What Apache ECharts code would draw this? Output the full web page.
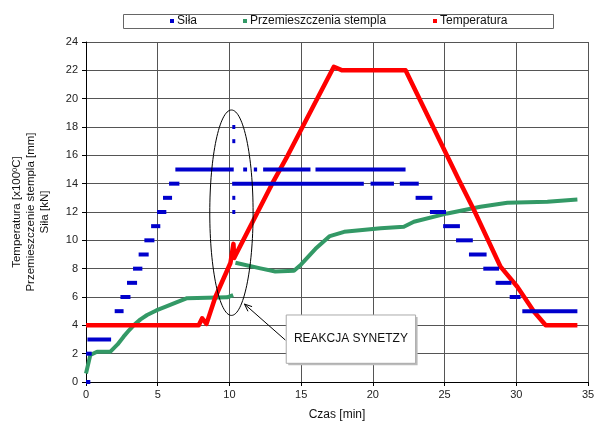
<!DOCTYPE html>
<html><head><meta charset="utf-8">
<script src="https://cdn.jsdelivr.net/npm/echarts/dist/echarts.min.js"></script>
<style>html,body{margin:0;padding:0;background:#fff}#c{width:594px;height:424px}</style>
</head><body><div id="c"></div>
<script>
// ---- Data ----
const seriesNames = ['Siła', 'Przemieszczenia stempla', 'Temperatura'];
const yAxisTitle = 'Temperatura [x100ºC]\nPrzemieszczenie stempla [mm]\nSiła [kN]';
const xAxisTitle = 'Czas [min]';
const annotationText = 'REAKCJA SYNETZY';

// Temperatura [x100ºC] : [time, value]
const tempTime = [0, 7.86, 8.1, 8.4, 9.02, 10.07, 10.28, 10.33, 10.45, 12.98, 14.07, 17.28, 17.86, 22.28, 26.0, 27.05, 28.9, 30.07, 31.24, 32.05, 34.26];
const tempVal  = [4.0, 4.0, 4.5, 4.1, 6.0, 8.4, 9.75, 8.75, 9.0, 14.0, 16.0, 22.25, 22.0, 22.0, 14.26, 12.14, 8.14, 6.72, 4.96, 4.0, 4.0];

// Przemieszczenia stempla [mm] (null = break)
const dispTime = [0, 0.3, 0.77, 1.7, 2.2, 2.62, 3.0, 3.32, 3.8, 4.26, 4.9, 5.65, 6.3, 7.05, 9.84, 10.26, null, 10.42, 12.16, 13.2, 14.5, 15.0, 16.0, 17.0, 18.0, 20.54, 22.16, 22.86, 25.19, 27.5, 29.38, 32.17, 34.26];
const dispVal  = [0.6, 1.9, 2.14, 2.14, 2.65, 3.2, 3.65, 4.0, 4.42, 4.73, 5.05, 5.35, 5.62, 5.92, 5.98, 6.14, null, 8.42, 8.02, 7.8, 7.85, 8.3, 9.4, 10.3, 10.6, 10.85, 10.96, 11.31, 11.9, 12.37, 12.65, 12.73, 12.89];

// Siła [kN] : runs of constant readings [start time, end time, value]
const silaStart = [0, 0, 0.1, 2.0, 2.4, 2.86, 3.28, 3.67, 4.07, 4.54, 4.95, 5.37, 5.79, 6.23, 10.2, 10.2, 10.2, 10.2, 10.96, 11.7, 12.35, 16.0, 10.19, 19.84, 21.88, 22.98, 23.98, 24.9, 25.8, 26.7, 27.7, 28.56, 29.54, 30.42];
const silaEnd   = [0.3, 0.4, 1.75, 2.62, 3.1, 3.56, 3.93, 4.37, 4.77, 5.18, 5.6, 6.0, 6.51, 10.3, 10.4, 10.4, 10.4, 10.4, 11.23, 11.93, 15.65, 22.28, 19.37, 21.47, 23.2, 24.15, 25.1, 26.07, 26.97, 27.93, 28.8, 29.66, 30.3, 34.26];
const silaVal   = [0, 2, 3, 5, 6, 7, 8, 9, 10, 11, 12, 13, 14, 15, 18, 17, 13, 12, 15, 15, 15, 15, 14, 14, 14, 13, 12, 11, 10, 9, 8, 7, 6, 5];

// Annotation anchors (data coordinates)
const ellipseCenter = [10.14, 11.95], ellipseRadius = [1.51, 7.25];
const boxTopLeft = [13.96, 4.73], boxBottomRight = [22.98, 1.32];
const arrowFrom = [13.9, 2.96], arrowTo = [11.05, 5.5];

const FONT = '"Liberation Sans", Arial, sans-serif';
const chart = echarts.init(document.getElementById('c'), null, {renderer: 'canvas'});

const tempData = tempTime.map((t, i) => [t, tempVal[i]]);
const dispData = dispTime.map((t, i) => t === null ? [null, null] : [t, dispVal[i]]);
const silaData = silaStart.map((s, i) => [s, silaEnd[i], silaVal[i]]);

const legendLefts = [170, 243, 433];
const legendColors = ['#0000cc', '#339966', '#ff0000'];

chart.setOption({
  animation: false,
  backgroundColor: '#fff',
  textStyle: {fontFamily: FONT},
  grid: {left: 86, right: 6, top: 42, bottom: 42, containLabel: false, outerBoundsMode: 'none'},
  legend: seriesNames.map((n, i) => ({
    data: [{name: n, icon: 'rect'}],
    left: legendLefts[i], top: 15,
    itemWidth: 4, itemHeight: 4, itemGap: 0,
    textStyle: {fontFamily: FONT, fontSize: 12, color: '#111', padding: [0, 0, 0, -2]},
    padding: 0, selectedMode: false
  })),
  xAxis: {
    type: 'value', min: 0, max: 35, interval: 5,
    name: xAxisTitle, nameLocation: 'middle', nameGap: 27, nameMoveOverlap: false,
    nameTextStyle: {fontFamily: FONT, fontSize: 12, color: '#111'},
    axisLine: {show: true, onZero: false, lineStyle: {color: '#000', width: 1}},
    axisTick: {show: true, length: 4, lineStyle: {color: '#000'}},
    axisLabel: {fontFamily: FONT, fontSize: 11, color: '#222', margin: 7},
    splitLine: {show: true, lineStyle: {color: '#555', width: 1}}
  },
  yAxis: {
    type: 'value', min: 0, max: 24, interval: 2,
    name: yAxisTitle, nameLocation: 'middle', nameGap: 55, nameRotate: 90, nameMoveOverlap: false,
    nameTextStyle: {fontFamily: FONT, fontSize: 11.5, color: '#111', lineHeight: 14, align: 'center', verticalAlign: 'middle'},
    axisLine: {show: true, onZero: false, lineStyle: {color: '#000', width: 1}},
    axisTick: {show: true, length: 4, lineStyle: {color: '#000'}},
    axisLabel: {fontFamily: FONT, fontSize: 11, color: '#222', margin: 8},
    splitLine: {show: true, lineStyle: {color: '#555', width: 1}}
  },
  series: [
    {
      name: seriesNames[0], type: 'custom', z: 5,
      itemStyle: {color: legendColors[0]},
      encode: {x: [0, 1], y: 2},
      data: silaData,
      renderItem: function (params, api) {
        const a = api.coord([api.value(0), api.value(2)]);
        const b = api.coord([api.value(1), api.value(2)]);
        const w = Math.max(b[0] - a[0], 3);
        return {type: 'rect', shape: {x: a[0], y: a[1] - 2, width: w, height: 4},
                style: {fill: legendColors[0]}};
      }
    },
    {
      name: seriesNames[1], type: 'line', z: 3, showSymbol: false, symbol: 'none',
      connectNulls: false, data: dispData,
      itemStyle: {color: legendColors[1]},
      lineStyle: {color: legendColors[1], width: 4, join: 'round'}
    },
    {
      name: seriesNames[2], type: 'line', z: 4, showSymbol: false, symbol: 'none',
      data: tempData,
      itemStyle: {color: legendColors[2]},
      lineStyle: {color: legendColors[2], width: 4.5, join: 'round'}
    }
  ]
});

function px(p) { return chart.convertToPixel({gridIndex: 0}, p); }
const c = px(ellipseCenter);
const cr = px([ellipseCenter[0] + ellipseRadius[0], ellipseCenter[1] + ellipseRadius[1]]);
const bt = px(boxTopLeft), bb = px(boxBottomRight);
const af = px(arrowFrom), at = px(arrowTo);
const ang = Math.atan2(at[1] - af[1], at[0] - af[0]);
const hl = 8, ha = 0.4;
const h1 = [at[0] - hl * Math.cos(ang - ha), at[1] - hl * Math.sin(ang - ha)];
const h2 = [at[0] - hl * Math.cos(ang + ha), at[1] - hl * Math.sin(ang + ha)];

chart.setOption({
  graphic: [
    {type: 'rect', shape: {x: 123.5, y: 14.5, width: 430, height: 14},
     style: {fill: 'none', stroke: '#666', lineWidth: 1}, z: 0, silent: true},
    {type: 'ellipse', shape: {cx: c[0], cy: c[1], rx: cr[0] - c[0], ry: c[1] - cr[1]},
     style: {fill: 'none', stroke: '#000', lineWidth: 1}, z: 10},
    {type: 'rect', shape: {x: bt[0] + 2, y: bt[1] + 2, width: bb[0] - bt[0], height: bb[1] - bt[1]},
     style: {fill: '#bbb'}, z: 10},
    {type: 'rect', shape: {x: bt[0], y: bt[1], width: bb[0] - bt[0], height: bb[1] - bt[1]},
     style: {fill: '#fff', stroke: '#aaa', lineWidth: 1}, z: 11},
    {type: 'text', x: (bt[0] + bb[0]) / 2, y: (bt[1] + bb[1]) / 2, z: 12,
     style: {text: annotationText, fill: '#111', font: '12px ' + FONT, align: 'center', verticalAlign: 'middle'}},
    {type: 'polyline', shape: {points: [af, at]}, style: {stroke: '#000', lineWidth: 1}, z: 10},
    {type: 'polyline', shape: {points: [h1, at, h2]}, style: {stroke: '#000', lineWidth: 1, fill: 'none'}, z: 10}
  ]
});
</script></body></html>
